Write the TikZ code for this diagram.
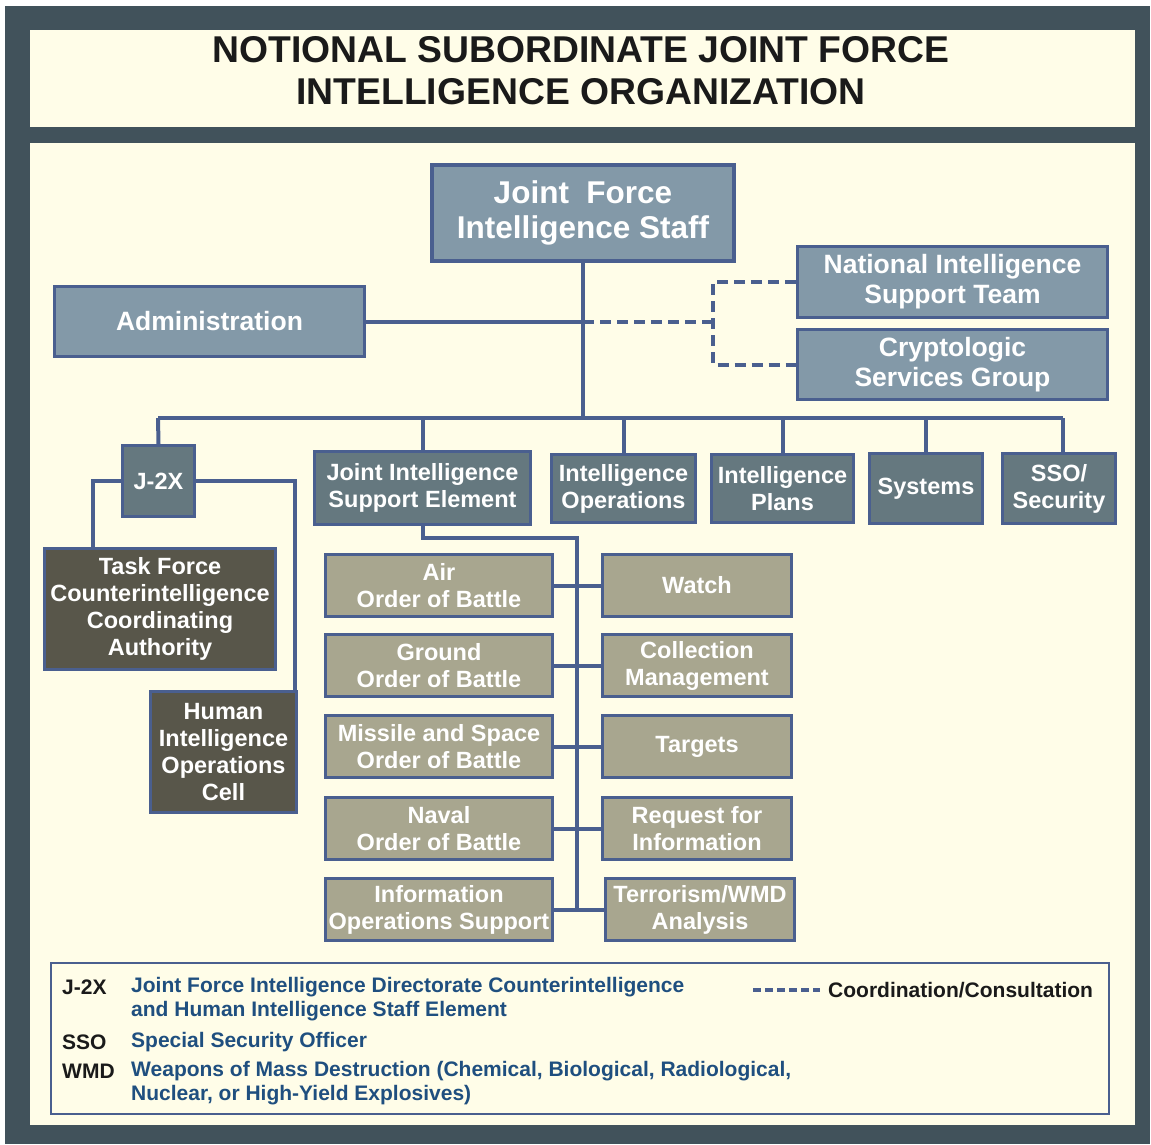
\documentclass[tikz,border=0pt]{standalone}
\usepackage{fontspec}
\setmainfont{Liberation Sans}
\usepackage{tikz}
\pgfdeclarelayer{bg}
\pgfsetlayers{bg,main}
\definecolor{frame}{HTML}{41525B}
\definecolor{cream}{HTML}{FFFDE8}
\definecolor{linkblue}{HTML}{4A5F8F}
\definecolor{staffgrey}{HTML}{8399A8}
\definecolor{branchgrey}{HTML}{65787F}
\definecolor{celltan}{HTML}{A8A68F}
\definecolor{cidark}{HTML}{58564A}
\definecolor{legblue}{HTML}{1F4F7F}
\definecolor{titleblack}{HTML}{1A1A1A}
\tikzset{
  unit/.style={draw=linkblue, line width=3pt, text=white, align=center, inner sep=0pt},
  staff/.style={unit, fill=staffgrey, font=\fontsize{26.5}{30}\selectfont\bfseries},
  branch/.style={unit, fill=branchgrey, font=\fontsize{23.5}{27}\selectfont\bfseries},
  cell/.style={unit, fill=celltan, font=\fontsize{23.5}{27}\selectfont\bfseries},
  cibox/.style={unit, fill=cidark, font=\fontsize{23.5}{27}\selectfont\bfseries},
  conn/.style={draw=linkblue, line width=4pt},
  coord/.style={conn, dash pattern=on 11pt off 6pt},
  legkey/.style={anchor=west, inner sep=0pt, text=titleblack, font=\fontsize{21}{24}\selectfont\bfseries},
  legdef/.style={anchor=west, inner sep=0pt, text=legblue, align=left, font=\fontsize{21}{24}\selectfont\bfseries}
}

\begin{document}
\begin{tikzpicture}[x=1pt, y=-1pt]
        \useasboundingbox (0,0) rectangle (1151,1144);
        \node (title) [text=titleblack, align=center, font=\fontsize{37.3}{42}\selectfont\bfseries] at (581,71) {NOTIONAL SUBORDINATE JOINT FORCE\\INTELLIGENCE ORGANIZATION};
        \node (jfis) [staff, line width=4pt, minimum width=302, minimum height=96, font=\fontsize{31.5}{35}\selectfont\bfseries] at (583,213) {Joint\ \ Force\\Intelligence Staff};
        \node (admin) [staff, minimum width=310, minimum height=70] at (209.5,321.5) {Administration};
        \node (nist) [staff, minimum width=310, minimum height=71] at (952.5,282) {National Intelligence\\Support Team};
        \node (cryp) [staff, minimum width=310, minimum height=70] at (952.5,364.5) {Cryptologic\\Services Group};
        \node (j2x) [branch, minimum width=72, minimum height=71] at (158.5,481) {J-2X};
        \node (jise) [branch, minimum width=216, minimum height=73] at (422.5,488) {Joint Intelligence\\Support Element};
        \node (intops) [branch, minimum width=144, minimum height=68] at (623.5,488.5) {Intelligence\\Operations};
        \node (intplans) [branch, minimum width=142, minimum height=68] at (782.5,488.5) {Intelligence\\Plans};
        \node (systems) [branch, minimum width=113, minimum height=70] at (926,488.5) {Systems};
        \node (sso) [branch, minimum width=113, minimum height=70] at (1059,488.5) {SSO/\\Security};
        \node (tfcca) [cibox, minimum width=231, minimum height=121] at (160,609) {Task Force\\Counterintelligence\\Coordinating\\Authority};
        \node (hioc) [cibox, minimum width=146, minimum height=121] at (223.5,752) {Human\\Intelligence\\Operations\\Cell};
        \node (air) [cell, minimum width=227, minimum height=62] at (439,585.5) {Air\\Order of Battle};
        \node (ground) [cell, minimum width=227, minimum height=62] at (439,665.5) {Ground\\Order of Battle};
        \node (missile) [cell, minimum width=227, minimum height=62] at (439,746.5) {Missile and Space\\Order of Battle};
        \node (naval) [cell, minimum width=227, minimum height=62] at (439,828.5) {Naval\\Order of Battle};
        \node (ios) [cell, minimum width=227, minimum height=62] at (439,909.5) {Information\\Operations Support};
        \node (watch) [cell, minimum width=189, minimum height=62] at (697,585.5) {Watch};
        \node (collect) [cell, minimum width=189, minimum height=62] at (697,665.5) {Collection\\Management};
        \node (targets) [cell, minimum width=189, minimum height=62] at (697,746.5) {Targets};
        \node (rfi) [cell, minimum width=189, minimum height=62] at (697,828.5) {Request for\\Information};
        \node (terror) [cell, minimum width=189, minimum height=62] at (700,909.5) {Terrorism/WMD\\Analysis};
        \node (legend) [draw=linkblue, line width=2pt, fill=cream, minimum width=1058, minimum height=151] at (580,1038.5) {};
        \node (k1) [legkey] at (62,987) {J-2X};
        \node (d1) [legdef] at (131,999) {Joint Force Intelligence Directorate Counterintelligence\\and Human Intelligence Staff Element};
        \node (k2) [legkey] at (62,1042) {SSO};
        \node (d2) [legdef] at (131,1042) {Special Security Officer};
        \node (k3) [legkey] at (62,1071) {WMD};
        \node (d3) [legdef] at (131,1083) {Weapons of Mass Destruction (Chemical, Biological, Radiological,\\Nuclear, or High-Yield Explosives)};
        \node (k4) [legkey] at (828,990) {Coordination/Consultation};
        \coordinate (d0) at (753,990);
        \coordinate (bus0) at (158,418);
        \coordinate (bus1) at (1063,418);
        \coordinate (dsplit) at (713,323);
        \coordinate (spine0) at (577,538);
        \coordinate (spine1) at (577,908);
        \begin{pgfonlayer}{bg}
                \fill[frame] (5,6) rectangle (1150,1144);
                \fill[cream] (30,30) rectangle (1135,127);
                \fill[cream] (30,143) rectangle (1135,1125);
                \draw[conn] (jfis.south) -- (jfis.south |- bus0);
                \draw[conn] (bus0) -- (bus1);
                \draw[conn] (bus0) -- (j2x.north);
                \draw[conn] (jise.north) -- (jise.north |- bus0);
                \draw[conn] (intops.north) -- (intops.north |- bus0);
                \draw[conn] (intplans.north) -- (intplans.north |- bus0);
                \draw[conn] (systems.north) -- (systems.north |- bus0);
                \draw[conn] (bus1) -- (bus1 |- sso.north);
                \draw[conn] (admin.east) -- (admin.east -| jfis.south);
                \draw[coord] (admin.east -| jfis.south) -- (dsplit |- admin.east);
                \draw[coord] (nist.west) -| (dsplit |- admin.east) |- (cryp.west);
                \draw[conn] (j2x.west) -| ([xshift=50pt]tfcca.north west);
                \draw[conn] (j2x.east) -| ([xshift=-3pt]hioc.north east);
                \draw[conn] (jise.south) |- (spine0) -- (spine1);
                \draw[conn] (air.east) -- (watch.west);
                \draw[conn] (ground.east) -- (collect.west);
                \draw[conn] (missile.east) -- (targets.west);
                \draw[conn] (naval.east) -- (rfi.west);
                \draw[conn] (ios.east) -- (terror.west);
        \end{pgfonlayer}
        \draw[coord, dash pattern=on 8pt off 4pt] (d0) -- ([xshift=-8pt]k4.west);
\end{tikzpicture}
\end{document}
